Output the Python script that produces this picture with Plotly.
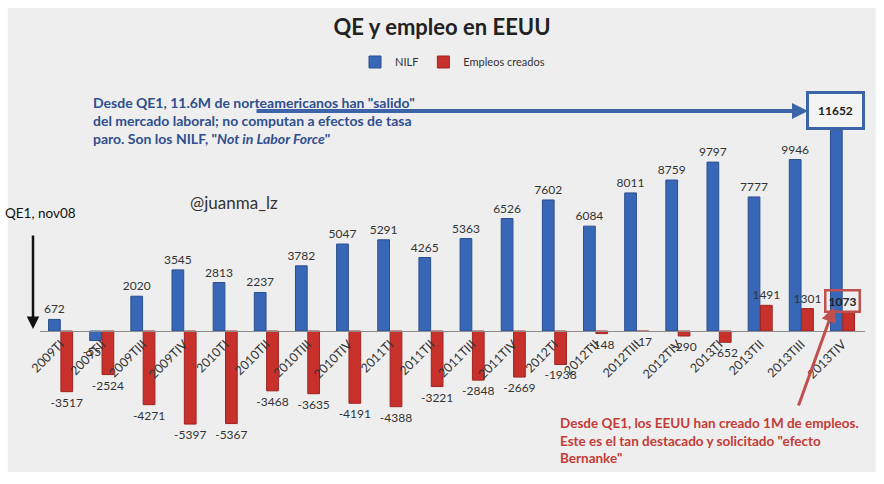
import plotly.graph_objects as go

# trimestres desde QE1
trimestres = ["2009TI", "2009TII", "2009TIII", "2009TIV",
              "2010TI", "2010TII", "2010TIII", "2010TIV",
              "2011TI", "2011TII", "2011TIII", "2011TIV",
              "2012TI", "2012TII", "2012TIII", "2012TIV",
              "2013TI", "2013TII", "2013TIII", "2013TIV"]
nilf = [672, -552, 2020, 3545, 2813, 2237, 3782, 5047, 5291, 4265,
        5363, 6526, 7602, 6084, 8011, 8759, 9797, 7777, 9946, 11652]
empleos = [-3517, -2524, -4271, -5397, -5367, -3468, -3635, -4191, -4388, -3221,
           -2848, -2669, -1938, -148, -17, -290, -652, 1491, 1301, 1073]

y_min, y_max = -8060, 13690
zero_pos = (0 - y_min) / (y_max - y_min)

AZUL = "#3867b8"
ROJO = "#c8302c"
FONT = "Lato, 'Open Sans', sans-serif"

# last values go in boxes, drawn as annotations below
nilf_txt = [str(v) for v in nilf[:-1]] + [""]
emp_txt = [str(v) for v in empleos[:-1]] + [""]

fig = go.Figure()
fig.add_trace(go.Bar(x=trimestres, y=nilf, name="NILF",
                     marker=dict(color=AZUL, line=dict(color="#2a4f8f", width=1)),
                     text=nilf_txt, textposition="outside", constraintext="none",
                     textfont=dict(size=12, color="#333"), cliponaxis=False))
fig.add_trace(go.Bar(x=trimestres, y=empleos, name="Empleos creados",
                     marker=dict(color=ROJO, line=dict(color="#9e2420", width=1)),
                     text=emp_txt, textposition="outside", constraintext="none",
                     textfont=dict(size=12, color="#333"), cliponaxis=False))

fig.update_layout(
    width=884, height=484,
    margin=dict(l=40, r=19, t=95, b=14),
    paper_bgcolor="white", plot_bgcolor="rgba(0,0,0,0)",
    font=dict(family=FONT, color="#333"),
    barmode="group", bargap=0.4, bargroupgap=0.05,
    title=dict(text="<b>QE y empleo en EEUU</b>", x=0.5, xanchor="center",
               y=0.944, yanchor="middle", font=dict(size=22, color="#222")),
    legend=dict(orientation="h", x=0.5, xanchor="center", y=1.088, yanchor="middle",
                font=dict(size=11, color="#333"), bgcolor="rgba(0,0,0,0)",
                itemwidth=30),
    xaxis=dict(anchor="free", position=zero_pos, showline=True, linecolor="#8c8c8c",
               linewidth=1, tickangle=-45, tickfont=dict(size=12.5, color="#333"),
               showgrid=False, ticks=""),
    yaxis=dict(range=[y_min, y_max], visible=False, showgrid=False, zeroline=False),
    showlegend=True,
)

# fondo gris
fig.add_shape(type="rect", xref="paper", yref="paper", x0=-0.039, x1=1.013,
              y0=-0.005, y1=1.232, fillcolor="#eeeeee", line=dict(width=0), layer="below")

# cajas con los ultimos valores
fig.add_annotation(x=trimestres[-1], y=nilf[-1], xref="x", yref="y", xshift=-7,
                   text=f"<b>{nilf[-1]}</b>", showarrow=False, yanchor="bottom",
                   font=dict(size=12, color="#222"), bordercolor="#3d64a8",
                   borderwidth=3, borderpad=9, bgcolor="#f4f4f4")
fig.add_annotation(x=trimestres[-1], y=empleos[-1], xref="x", yref="y", xshift=0,
                   text=f"<b>{empleos[-1]}</b>", showarrow=False, yanchor="bottom",
                   font=dict(size=12, color="#222"), bordercolor="#c0504d",
                   borderwidth=2.5, borderpad=2)

# textos
fig.add_annotation(xref="paper", yref="paper", x=0.062, y=1.008, xanchor="left", yanchor="top",
                   align="left", showarrow=False,
                   text="<b>Desde QE1, 11.6M de norteamericanos han \"salido\"<br>"
                        "del mercado laboral; no computan a efectos de tasa<br>"
                        "paro. Son los NILF, \"<i>Not in Labor Force</i>\"</b>",
                   font=dict(size=14, color="#2f4f8f"))
fig.add_annotation(xref="paper", yref="paper", x=0.628, y=0.152, xanchor="left", yanchor="top",
                   align="left", showarrow=False,
                   text="<b>Desde QE1, los EEUU han creado 1M de empleos.<br>"
                        "Este es el tan destacado y solicitado \"efecto<br>"
                        "Bernanke\"</b>",
                   font=dict(size=13.5, color="#c43b36"))
fig.add_annotation(xref="paper", yref="paper", x=(234 - 40) / 825, y=(470 - 202) / 375,
                   xanchor="center", yanchor="middle",
                   text="@juanma_lz", showarrow=False, font=dict(size=17, color="#333"))
fig.add_annotation(xref="paper", yref="paper", x=(3 - 40) / 825, y=(470 - 213) / 375,
                   xanchor="left", yanchor="middle", text="QE1, nov08", showarrow=False,
                   font=dict(size=13.5, color="#111"))

# flechas
fig.add_annotation(xref="paper", yref="paper", x=(33 - 40) / 825, y=(470 - 329) / 375,
                   ax=0, ay=-95, text="", showarrow=True, arrowhead=2, arrowsize=1,
                   arrowwidth=2.5, arrowcolor="#111")
fig.add_annotation(xref="paper", yref="paper", x=(808 - 40) / 825, y=(470 - 111) / 375,
                   ax=-553, ay=0, text="", showarrow=True, arrowhead=2, arrowsize=0.8,
                   arrowwidth=4, arrowcolor="#3d64a8")
fig.add_annotation(xref="paper", yref="paper", x=(834 - 40) / 825, y=(470 - 307) / 375,
                   ax=-36, ay=100, text="", showarrow=True, arrowhead=2, arrowsize=1,
                   arrowwidth=3, arrowcolor="#c0504d")

# page has a default 8px body margin, drop it so the figure fills the window
fig.write_html("out.html", config={"displayModeBar": False},
               post_script="document.body.style.margin='0';")
